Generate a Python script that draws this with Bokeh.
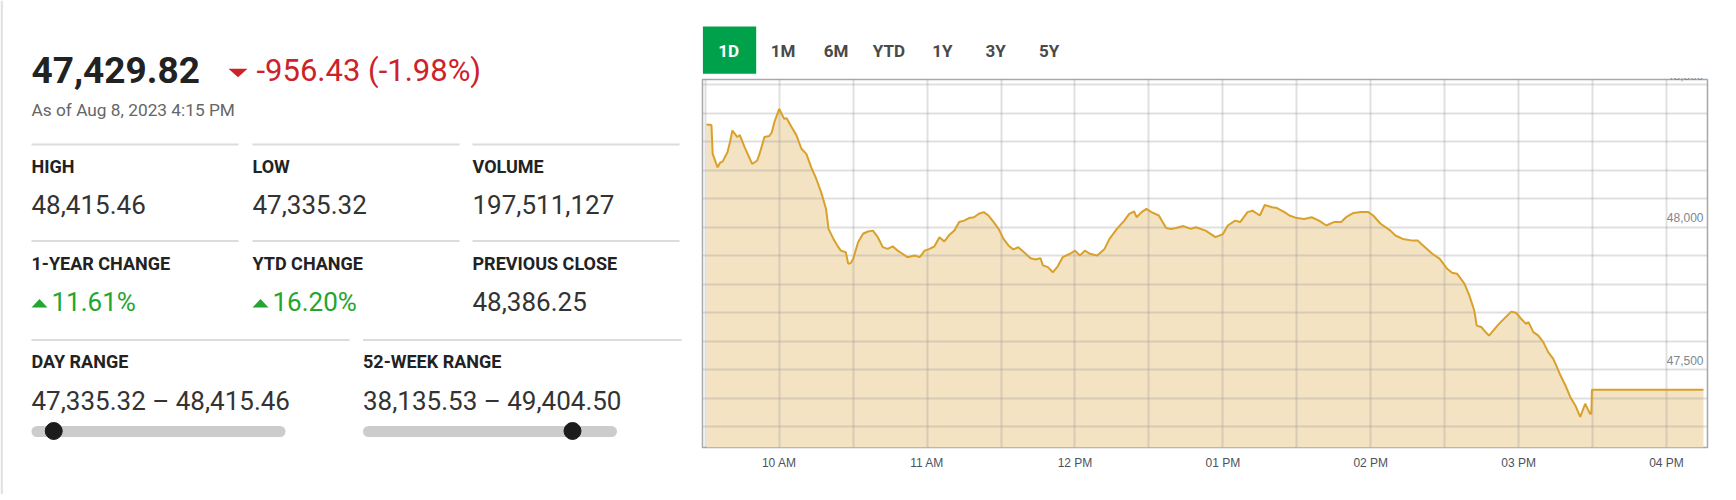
import pandas as pd
from bokeh.plotting import figure
from bokeh.layouts import row, column
from bokeh.models import Range1d, FixedTicker, DatetimeTickFormatter, ColumnDataSource
from bokeh.core.properties import value
from bokeh.embed import file_html
from bokeh.resources import INLINE

# ---------------- data ----------------
DATE = "2023-08-08"
TIMES = [
    "09:30:30", "09:32:30", "09:33", "09:35", "09:36", "09:37", "09:39", "09:40", "09:41", "09:43",
    "09:44", "09:46", "09:49", "09:51", "09:52", "09:54", "09:56", "09:57", "09:58", "10:00",
    "10:02", "10:03", "10:05", "10:07", "10:09", "10:11", "10:13", "10:15", "10:17", "10:19",
    "10:20", "10:22", "10:24", "10:25", "10:27", "10:28", "10:29", "10:30", "10:32", "10:34",
    "10:36", "10:38", "10:40", "10:42", "10:44", "10:46", "10:48", "10:50", "10:52", "10:55",
    "10:57", "10:59", "11:01", "11:03", "11:05", "11:07", "11:09", "11:11", "11:13", "11:15",
    "11:17", "11:19", "11:21", "11:23", "11:25", "11:27", "11:29", "11:31", "11:33", "11:35",
    "11:37", "11:40", "11:42", "11:44", "11:46", "11:47", "11:49", "11:51", "11:53", "11:55",
    "11:58", "12:00", "12:02", "12:04", "12:06", "12:09", "12:12", "12:14", "12:17", "12:20",
    "12:22", "12:24", "12:25", "12:27", "12:29", "12:31", "12:34", "12:37", "12:39", "12:41",
    "12:44", "12:47", "12:49", "12:53", "12:57", "13:00", "13:02", "13:05", "13:07", "13:10",
    "13:12", "13:15", "13:17", "13:20", "13:22", "13:25", "13:27", "13:30", "13:33", "13:36",
    "13:39", "13:42", "13:45", "13:48", "13:50", "13:53", "13:56", "13:59", "14:01", "14:04",
    "14:08", "14:10", "14:13", "14:17", "14:19", "14:22", "14:25", "14:28", "14:31", "14:33",
    "14:35", "14:38", "14:40", "14:42", "14:43", "14:45", "14:46", "14:48", "14:52", "14:57",
    "14:59", "15:01", "15:03", "15:04", "15:06", "15:08", "15:10", "15:12", "15:14", "15:15",
    "15:17", "15:19", "15:21", "15:23", "15:25", "15:27", "15:28", "15:29", "15:29:30", "15:29:45",
    "16:15",
]
PRICES = [
    48360, 48358, 48257, 48210, 48226, 48230, 48263, 48298, 48339, 48316,
    48323, 48280, 48222, 48233, 48257, 48316, 48320, 48333, 48368, 48415,
    48380, 48382, 48351, 48322, 48275, 48257, 48210, 48170, 48123, 48064,
    47994, 47959, 47930, 47918, 47912, 47872, 47874, 47889, 47947, 47977,
    47985, 47988, 47965, 47930, 47924, 47933, 47918, 47907, 47895, 47901,
    47895, 47918, 47924, 47933, 47965, 47950, 47973, 47988, 48018, 48023,
    48032, 48035, 48047, 48053, 48040, 48018, 47994, 47959, 47936, 47922,
    47930, 47907, 47891, 47887, 47891, 47866, 47860, 47842, 47863, 47895,
    47907, 47918, 47901, 47918, 47907, 47901, 47924, 47959, 47994, 48023,
    48047, 48055, 48035, 48053, 48064, 48053, 48041, 47997, 47994, 47997,
    48004, 47994, 48000, 47988, 47965, 47976, 48006, 48023, 48018, 48053,
    48058, 48041, 48078, 48070, 48067, 48053, 48041, 48032, 48029, 48035,
    48023, 48006, 48018, 48018, 48035, 48050, 48053, 48053, 48041, 48012,
    47988, 47971, 47959, 47953, 47953, 47930, 47907, 47889, 47854, 47840,
    47837, 47802, 47761, 47708, 47655, 47649, 47638, 47620, 47661, 47704,
    47700, 47679, 47661, 47667, 47632, 47620, 47597, 47562, 47539, 47521,
    47480, 47445, 47404, 47375, 47335, 47381, 47363, 47346, 47346, 47430,
    47430,
]

LAST_PRICE = 47429.82
NET_CHANGE = -956.43
PCT_CHANGE = -1.98
AS_OF = "As of Aug 8, 2023 4:15 PM"
DAY_HIGH = 48415.46
DAY_LOW = 47335.32
VOLUME = 197511127
ONE_YEAR_CHANGE = 11.61
YTD_CHANGE = 16.20
PREVIOUS_CLOSE = 48386.25
WEEK52_LOW = 38135.53
WEEK52_HIGH = 49404.50

PERIODS = ["1D", "1M", "6M", "YTD", "1Y", "3Y", "5Y"]
X_TICK_TIMES = ["10:00", "11:00", "12:00", "13:00", "14:00", "15:00", "16:00"]
Y_TICK_VALUES = [47500, 48000, 48500]
Y_TICK_LABELS = ["47,500", "48,000", "48,500"]

# ---------------- styles ----------------
FONT = value("Roboto")
AXIS_FONT = value("Liberation Sans")
RED = "#cc2229"
GREEN = "#23a52f"
GOLD = "#d9a12c"
TAN = "#f3e3c2"
CARD = "#e2e2e2"


def ms(ts):
    return pd.Timestamp(ts).value // 10**6


def blank(width, height, x0, x1, y0, y1):
    p = figure(width=width, height=height, x_range=Range1d(x0, x1), y_range=Range1d(y1, y0),
               output_backend="svg", toolbar_location=None, x_axis_location=None,
               y_axis_location=None, min_border=0, outline_line_color=None)
    p.grid.visible = False
    p.background_fill_color = "white"
    return p


def txt(p, x, y, s, size, color, bold=False, align="left", font=FONT):
    # y is the vertical centre of the text
    p.text(x=[x], y=[y], text=[s], text_font=font, text_font_size=f"{size}px",
           text_font_style="bold" if bold else "normal", text_color=color,
           text_align=align, text_baseline="middle")


def tri(p, cx, top, w, h, color, up):
    xs = [cx - w / 2, cx + w / 2, cx]
    ys = [top + h, top + h, top] if up else [top, top, top + h]
    p.patch(xs, ys, color=color, line_width=0)


TOP_H = 494

# ---------------- left panel ----------------
left = blank(701, TOP_H, 0, 701, 0, TOP_H)
left.segment(x0=[1.2], y0=[0], x1=[1.2], y1=[TOP_H], line_color=CARD, line_width=2.5)

txt(left, 31, 69.5, f"{LAST_PRICE:,.2f}", 37, "#222222", bold=True)
tri(left, 237.5, 68.3, 19, 8.4, RED, up=False)
txt(left, 256, 70, f"{NET_CHANGE:,.2f} ({PCT_CHANGE:.2f}%)", 31, RED)
txt(left, 31, 109.7, AS_OF, 17.3, "#666666")

SEP = "#dcdcdc"
col_x = [31, 252, 472]
for y in (144, 240.5):
    for cx in col_x:
        left.segment(x0=[cx], y0=[y], x1=[cx + 207], y1=[y], line_color=SEP, line_width=2)
for cx, ex in ((31, 349), (362.5, 681)):
    left.segment(x0=[cx], y0=[339.5], x1=[ex], y1=[339.5], line_color=SEP, line_width=2)

LABEL_SIZE = 18
VALUE_SIZE = 26
row1_labels = ["HIGH", "LOW", "VOLUME"]
row1_values = [f"{DAY_HIGH:,.2f}", f"{DAY_LOW:,.2f}", f"{VOLUME:,}"]
for cx, lab, val in zip(col_x, row1_labels, row1_values):
    txt(left, cx, 166, lab, LABEL_SIZE, "#222222", bold=True)
    txt(left, cx, 204, val, VALUE_SIZE, "#333333")

row2_labels = ["1-YEAR CHANGE", "YTD CHANGE", "PREVIOUS CLOSE"]
for cx, lab in zip(col_x, row2_labels):
    txt(left, cx, 263, lab, LABEL_SIZE, "#222222", bold=True)
for cx, val in zip(col_x[:2], [ONE_YEAR_CHANGE, YTD_CHANGE]):
    tri(left, cx + 8, 298.5, 16, 8.5, GREEN, up=True)
    txt(left, cx + 20, 301, f"{val:.2f}%", VALUE_SIZE, GREEN)
txt(left, col_x[2], 301, f"{PREVIOUS_CLOSE:,.2f}", VALUE_SIZE, "#333333")

ranges = [("DAY RANGE", DAY_LOW, DAY_HIGH, 31), ("52-WEEK RANGE", WEEK52_LOW, WEEK52_HIGH, 362.5)]
for lab, lo, hi, cx in ranges:
    txt(left, cx, 360.5, lab, LABEL_SIZE, "#222222", bold=True)
    txt(left, cx, 400, f"{lo:,.2f} \u2013 {hi:,.2f}", VALUE_SIZE, "#333333")
    bx0, bx1 = cx + 5.5, cx + 248.5
    left.segment(x0=[bx0], y0=[431], x1=[bx1], y1=[431], line_color="#cccccc",
                 line_width=11, line_cap="round")
    frac = (LAST_PRICE - lo) / (hi - lo)
    kx = cx + frac * 254
    left.scatter(x=[kx], y=[430.5], size=17, color="#1c1c1c")

# ---------------- period buttons ----------------
RIGHT_W = 1035
btn = blank(RIGHT_W, 78, 701, 701 + RIGHT_W, 0, 78)
btn.quad(left=[701.3], right=[756.3], top=[26], bottom=[73.3], color="#00a14b", line_width=0)
btn_x = [728, 784, 838.5, 893, 948, 1003, 1058]
for i, (bx, lab) in enumerate(zip(btn_x, PERIODS)):
    txt(btn, bx, 50.5, lab, 17, "white" if i == 0 else "#4a4a4a", bold=True, align="center")

# ---------------- chart ----------------
t = pd.to_datetime([f"{DATE} {s}" for s in TIMES], format="mixed")
src = ColumnDataSource(dict(t=t, price=PRICES))

X_START = ms(f"{DATE} 09:28:52")
X_END = ms(f"{DATE} 16:16:38")
Y_LO, Y_HI = 47227.6, 48517.9

cp = figure(width=RIGHT_W, height=TOP_H - 78, x_axis_type="datetime",
            x_range=Range1d(X_START, X_END), y_range=Range1d(Y_LO, Y_HI),
            output_backend="svg", toolbar_location=None, y_axis_location=None,
            min_border_left=1, min_border_right=1736 - 1707, min_border_top=1,
            min_border_bottom=TOP_H - 78 - 1 - 368,
            outline_line_color="#a8a8a8", outline_line_width=1.5)
cp.background_fill_color = "white"

area = cp.varea(x="t", y1=Y_LO, y2="price", source=src, fill_color=TAN)
area.level = "underlay"
ln = cp.line(x="t", y="price", source=src, line_color=GOLD, line_width=2)
ln.level = "annotation"

half_hours = pd.date_range(f"{DATE} 09:30", f"{DATE} 16:00", freq="30min")
cp.xgrid.ticker = FixedTicker(ticks=[ms(d) for d in half_hours])
cp.ygrid.ticker = FixedTicker(ticks=list(range(47300, 48501, 100)))
for g in (cp.xgrid, cp.ygrid):
    g.grid_line_color = "#8c8c8c"
    g.grid_line_alpha = 0.27
    g.grid_line_width = 2
    g.level = "glyph"

cp.xaxis.ticker = FixedTicker(ticks=[ms(f"{DATE} {s}") for s in X_TICK_TIMES])
cp.xaxis.formatter = DatetimeTickFormatter(hours="%I %p", hourmin="%I %p", minutes="%I %p",
                                           minsec="%I %p", days="%I %p")
cp.xaxis.axis_line_color = None
cp.xaxis.major_tick_line_color = None
cp.xaxis.minor_tick_line_color = None
cp.xaxis.major_tick_out = 0
cp.xaxis.major_label_standoff = 8
cp.xaxis.major_label_text_font = "Liberation Sans"
cp.xaxis.major_label_text_font_size = "12px"
cp.xaxis.major_label_text_color = "#4b5260"

ylab = cp.text(x=[X_END] * len(Y_TICK_VALUES), y=Y_TICK_VALUES, text=Y_TICK_LABELS,
               text_font=AXIS_FONT, text_font_size="12px", text_color="#80868f",
               text_align="right", text_baseline="middle", x_offset=-4, y_offset=-9.5)
ylab.level = "annotation"

# ---------------- card bottom edge ----------------
bottom = blank(1736, 4, 0, 1736, TOP_H, TOP_H + 4)
bottom.segment(x0=[1.2], y0=[TOP_H], x1=[1.2], y1=[496.5], line_color=CARD, line_width=2.5)
bottom.segment(x0=[0], y0=[496.5], x1=[1736], y1=[496.5], line_color=CARD, line_width=2.5)

layout = column(row(left, column(btn, cp, spacing=0), spacing=0), bottom, spacing=0)
open("out.html", "w").write(file_html(layout, INLINE))
